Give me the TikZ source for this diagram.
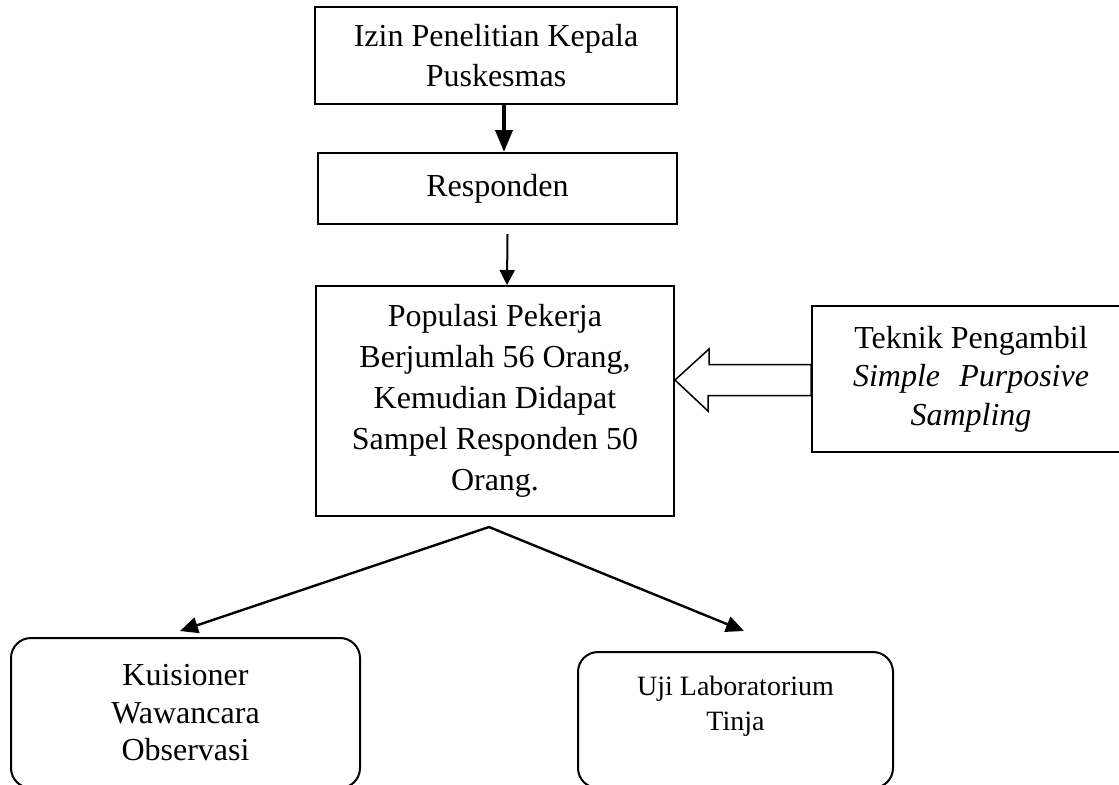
\documentclass[tikz,border=0pt]{standalone}
\usepackage{fontspec}
\setmainfont{Liberation Serif}
\usepackage{tikz}
\usetikzlibrary{arrows.meta}

\begin{document}
\begin{tikzpicture}[x=0.5pt,y=-0.5pt]
\tikzstyle{every node}+=[inner sep=0pt]
\tikzstyle{box}=[draw, line width=1pt, align=center, font=\fontsize{16}{20.5}\selectfont]
\tikzstyle{roundbox}=[box, rounded corners=10pt]
\tikzstyle{boldlink}=[line width=2pt, -{Triangle[length=11pt,width=8.5pt]}]
\tikzstyle{link}=[line width=1pt, -{Triangle[length=7.5pt,width=7.5pt]}]
\tikzstyle{fanlink}=[line width=1.2pt, {Triangle[length=9pt,width=8pt]}-{Triangle[length=9pt,width=8pt]}]
\tikzstyle{blockarrow}=[draw, line width=0.75pt, fill=white, line join=miter]
\clip (0,0) rectangle (1119,784);
\node [box, minimum width=181pt, minimum height=48.5pt, font=\fontsize{16}{20}\selectfont] (izin) at (496,55.5) {Izin Penelitian Kepala\\Puskesmas};
\node [box, minimum width=179.5pt, minimum height=35.5pt] (resp) at (497.5,188.5) {Responden};
\node [box, minimum width=179pt, minimum height=115pt] (pop) at (495,401) {Populasi Pekerja\\Berjumlah 56 Orang,\\Kemudian Didapat\\Sampel Responden 50\\Orang.};
\node [box, minimum width=159pt, minimum height=73pt, font=\fontsize{16}{19.25}\selectfont] (teknik) at (971,379) {Teknik Pengambil\\\makebox[118pt][s]{\itshape Simple Purposive}\\\textit{Sampling}};
\node [roundbox, minimum width=174.5pt, minimum height=75pt, font=\fontsize{16}{18.75}\selectfont] (kuis) at (185.5,713) {Kuisioner\\Wawancara\\Observasi};
\node [roundbox, minimum width=157.5pt, minimum height=68pt, text depth=17pt, font=\fontsize{14}{17.5}\selectfont] (uji) at (735.5,720) {Uji Laboratorium\\Tinja};
\draw [boldlink] ([xshift=4pt]izin.south) -- ([xshift=4pt]izin.south |- resp.north);
\draw [link] ([xshift=5pt,yshift=-4.5pt]resp.south) -- ([xshift=6pt]pop.north);
\coordinate (tip) at ([yshift=10.5pt]pop.east);
\draw [blockarrow] (tip) -- ++(34,-31) -- ++(0,15.5) -- (teknik.west |- 0,364.5) -- (teknik.west |- 0,395.5) -- ++(-103,0) -- ++(0,15.5) -- cycle;
\coordinate (fork) at ([xshift=-3pt,yshift=-5pt]pop.south);
\draw [fanlink] ([xshift=-2.75pt,yshift=3pt]kuis.north) -- (fork) -- ([xshift=4.25pt,yshift=10pt]uji.north);
\end{tikzpicture}
\end{document}
